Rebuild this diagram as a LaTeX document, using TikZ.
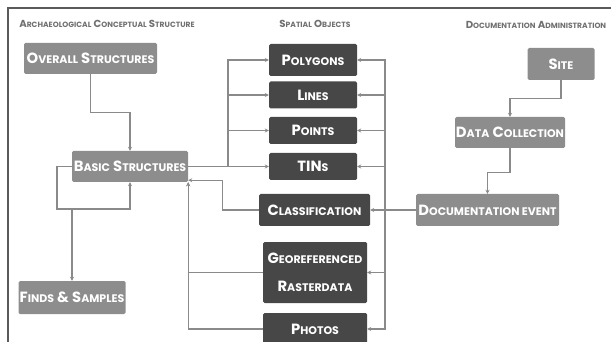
\documentclass[tikz,border=0pt]{standalone}
\usepackage{fontspec}
\usepackage{tikz}
\usetikzlibrary{arrows.meta}
\setmainfont{Poppins}

\definecolor{boxlight}{HTML}{8D8D8D}
\definecolor{boxdark}{HTML}{474747}
\definecolor{linegray}{HTML}{8A8A8A}
\definecolor{framegray}{HTML}{5A5A5A}
\definecolor{headgray}{HTML}{707070}

% small capitals made by hand
\newcommand{\sm}[1]{{\fontsize{11}{12}\selectfont #1}}
\newcommand{\hsm}[1]{{\fontsize{7.6}{8}\selectfont #1}}

\begin{document}
\begin{tikzpicture}[x=1pt,y=-1pt,
		box/.style={rounded corners=1.5pt, text=white, inner sep=0pt, align=center, font=\fontsize{14.8}{16}\selectfont\bfseries},
		light/.style={box, fill=boxlight},
		dark/.style={box, fill=boxdark},
		head/.style={text=headgray, inner sep=0pt, font=\fontsize{10.2}{11}\selectfont\bfseries},
		line/.style={draw=linegray, line width=1.2pt},
		link/.style={line, -{Stealth[length=4pt,width=4pt]}},
	]
	\useasboundingbox (0,0) rectangle (611,342);
	
	% frame
	\draw[framegray, line width=2pt] (8,342) -- (8,8) -- (611,8);
	
	% headings
	\node[head] (hconc) at (107,24) {A\hsm{RCHAEOLOGICAL} C\hsm{ONCEPTUAL} S\hsm{TRUCTURE}};
	\node[head] (hspat) at (315,24) {S\hsm{PATIAL} O\hsm{BJECTS}};
	\node[head] (hdoc) at (536,25) {D\hsm{OCUMENTATION} A\hsm{DMINISTRATION}};
	
	% conceptual structure
	\node[light, minimum width=133, minimum height=31] (overall) at (90.5,58.5) {O\sm{VERALL} S\sm{TRUCTURES}};
	\node[light, minimum width=116, minimum height=31] (basic) at (130,166.5) {B\sm{ASIC} S\sm{TRUCTURES}};
	\node[light, minimum width=107, minimum height=33] (finds) at (72,297.5) {F\sm{INDS} \& S\sm{AMPLES}};
	
	% spatial objects
	\node[dark, minimum width=88, minimum height=32] (polygons) at (313,60) {P\sm{OLYGONS}};
	\node[dark, minimum width=88, minimum height=27] (lines) at (313,95) {L\sm{INES}};
	\node[dark, minimum width=88, minimum height=27] (points) at (313,130.5) {P\sm{OINTS}};
	\node[dark, minimum width=88, minimum height=27] (tins) at (313,166.5) {TIN\sm{S}};
	\node[dark, minimum width=111, minimum height=32] (classif) at (314.5,210) {C\sm{LASSIFICATION}};
	\node[dark, minimum width=104, minimum height=61] (georef) at (315,272.5) {G\sm{EOREFERENCED}\\[12pt] R\sm{ASTERDATA}};
	\node[dark, minimum width=104, minimum height=32] (photos) at (315,329) {P\sm{HOTOS}};
	
	% documentation administration
	\node[light, minimum width=67, minimum height=32] (site) at (561,64) {S\sm{ITE}};
	\node[light, minimum width=110, minimum height=31] (datacoll) at (510,132.5) {D\sm{ATA} C\sm{OLLECTION}};
	\node[light, minimum width=143, minimum height=32] (docevent) at (487.5,210) {D\sm{OCUMENTATION EVENT}};
	
	% buses
	\coordinate (lbus) at (228,0);
	\coordinate (rbus) at (385,0);
	\coordinate (loop) at (57,209);
	
	% connectors
	\draw[link] (overall.south) -- ++(0,38) -| (basic.north);
	\foreach \n in {polygons,lines,points,tins}
		\draw[link] (basic.east) -- (basic.east -| lbus) |- (\n.west);
	\draw[link] (docevent.west) -- (classif.east);
	\foreach \n in {polygons,lines,points,tins,georef,photos}
		\draw[link] (docevent.west) -- (docevent.west -| rbus) |- (\n.east);
	\draw[link] (site.south) -- ++(0,18) -| (datacoll.north);
	\draw[link] (datacoll.south) -- ++(0,24) -| (docevent.north);
	\draw[link] (basic.west) -| (loop) -| (basic.south);
	\draw[link] (finds.north |- loop) -- (finds.north);
	\draw[link] (classif.west) -- ++(-36,0) |- ([yshift=2pt]basic.south east);
	\draw[link] (georef.west) -| (basic.south east);
	\draw[link] (photos.west) -| (basic.south east);
\end{tikzpicture}
\end{document}
